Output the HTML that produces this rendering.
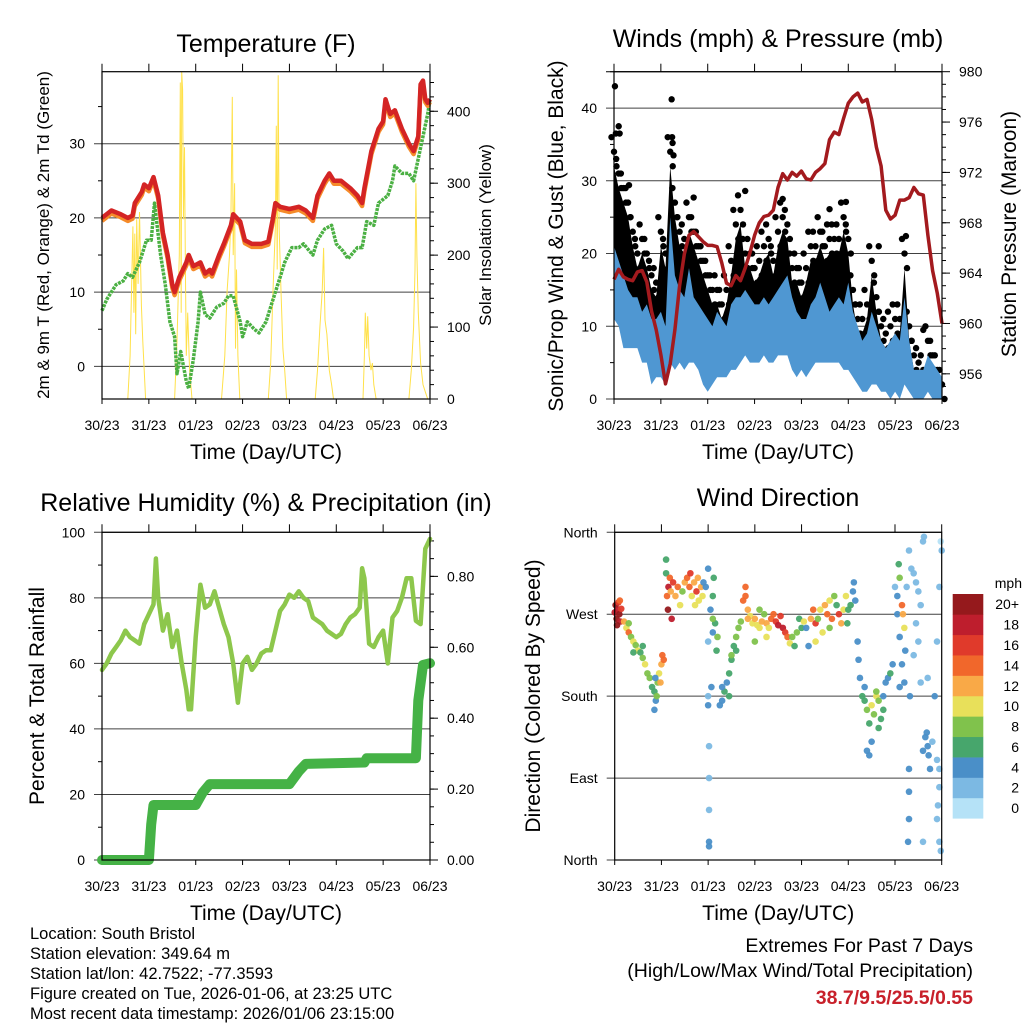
<!DOCTYPE html>
<html><head><meta charset="utf-8"><style>
html,body{margin:0;padding:0;background:#fff;}
svg{display:block;font-family:"Liberation Sans",sans-serif;}
</style></head><body>
<svg id="fig" width="1024" height="1024" viewBox="0 0 1024 1024" xmlns="http://www.w3.org/2000/svg">
<rect x="0" y="0" width="1024" height="1024" fill="#fff"/>
</svg>
<script>
// ---------- shared ----------
const dayLabels = ["30/23","31/23","01/23","02/23","03/23","04/23","05/23","06/23"];
// ---------- Temperature panel ----------
const tempT = [0,0.2,0.4,0.55,0.65,0.7,0.85,0.9,1.0,1.1,1.2,1.3,1.4,1.5,1.55,1.65,1.8,1.85,1.95,2.1,2.2,2.3,2.35,2.5,2.6,2.75,2.8,2.95,3.05,3.2,3.4,3.55,3.65,3.7,3.8,4.0,4.2,4.35,4.5,4.6,4.75,4.85,4.95,5.1,5.3,5.45,5.55,5.6,5.75,5.9,6.0,6.05,6.15,6.25,6.4,6.55,6.65,6.75,6.8,6.85,6.9,6.95,7.0];
const tempV = [20,21,20.5,20,20.3,22,23.5,24.5,24,25.5,23,18,15,11,10,12,14,15,13.5,14,12.5,13,12.5,15,16.5,19,20.5,19.5,17,16.5,16.5,16.8,20,22,21.5,21.2,21.5,21,20,23,25,26,25,25,24,23,22,24,29,32,33,36,34,34.5,32,30,29,31,38,38.5,36,35.5,36];
const dewT = [0,0.1,0.2,0.3,0.45,0.55,0.65,0.8,0.95,1.05,1.12,1.25,1.35,1.45,1.55,1.6,1.68,1.8,1.85,1.95,2.05,2.1,2.2,2.3,2.45,2.6,2.7,2.8,2.95,3.0,3.1,3.25,3.35,3.5,3.65,3.8,3.9,4.05,4.2,4.3,4.5,4.6,4.75,4.9,5.0,5.15,5.25,5.45,5.55,5.65,5.8,5.9,6.1,6.2,6.25,6.4,6.55,6.65,6.75,6.85,6.95,7.0];
const dewV = [7.5,9,10,11,11.5,12.5,12,14,17,17,22,15,11,6,4,-1,2,-2,-3,1,6,10,7,6.5,8,8.5,9.5,9.5,6,4,6,5,4.5,6,9,12,14,16,16,16.5,15,17,18.5,19,16.5,15.5,14.5,16,16,19.5,19,22,23,25,27,26,26,25,28,31,34,36];
const solarT = [0,0.55,0.6,0.63,0.66,0.68,0.7,0.72,0.74,0.77,0.8,0.82,0.84,0.87,0.9,0.93,1.55,1.6,1.65,1.67,1.69,1.7,1.72,1.74,1.76,1.78,1.8,1.83,1.87,1.92,2.55,2.62,2.67,2.72,2.75,2.78,2.8,2.83,2.85,2.87,2.9,2.94,3.55,3.6,3.65,3.7,3.72,3.74,3.76,3.78,3.82,3.86,3.9,3.94,4.55,4.6,4.65,4.7,4.73,4.76,4.8,4.85,4.9,4.94,5.57,5.6,5.62,5.65,5.67,5.7,5.74,5.77,5.8,5.85,6.55,6.6,6.65,6.68,6.7,6.72,6.75,6.8,6.85,6.9,6.95,7.0];
const solarV = [0,0,60,150,240,120,230,90,250,160,260,200,130,80,40,0,0,80,200,440,120,455,430,250,350,180,60,120,40,0,0,60,150,200,250,420,200,300,70,180,60,0,0,50,150,240,380,180,450,240,150,70,40,0,0,40,100,150,210,110,90,40,20,0,0,60,120,70,115,60,40,50,20,0,0,40,100,180,300,200,120,50,20,10,0,0];
const tempTicks = [0,10,20,30];
const solarTicks = [0,100,200,300,400];
// ---------- Wind panel ----------
const windT = [0,0.1,0.2,0.3,0.4,0.5,0.6,0.7,0.8,0.9,1.0,1.1,1.2,1.3,1.4,1.5,1.6,1.7,1.8,1.9,2.0,2.1,2.2,2.3,2.4,2.5,2.6,2.7,2.8,2.9,3.0,3.1,3.2,3.3,3.4,3.5,3.6,3.7,3.8,3.9,4.0,4.1,4.2,4.3,4.4,4.5,4.6,4.7,4.8,4.9,5.0,5.1,5.2,5.3,5.4,5.5,5.6,5.7,5.8,5.9,6.0,6.1,6.2,6.3,6.4,6.5,6.6,6.7,6.8,6.9,7.0];
const windHi = [21,19,17,15,14,14,12,13,11,11,12,10,25,17,15,14,18,14,13,12,11,10,12,11,10,13,14,14,15,14,13,13,14,13,14,15,16,17,14,12,11,11,13,14,16,14,12,13,14,13,16,12,10,8,9,12,10,8,7,8,9,8,14,8,4,4,4,6,5,4,3];
const windLo = [11,10,7,7,7,7,5,5,2,3,3,2,5,4,5,4,5,5,4,2,1,2,3,3,3,4,4,5,6,5,5,5,6,5,5,6,6,6,4,3,4,3,4,5,5,5,5,5,5,4,4,3,2,1,1,2,2,1,1,0,1,0,2,1,0,0,0,1,0,0,0];
const gustHi = [36,33,31,29,25,22,24,22,19,18,25,22,36,29,25,24,27,25,23,21,19,17,17,15,17,21,26,28,22,22,20,21,23,24,21,25,27,26,20,20,18,20,23,23,25,23,24,24,24,27,24,17,13,13,15,21,16,12,11,12,13,13,22,12,8,7,6,10,8,6,4];
const gustLo = [16,15,13,11,10,10,9,9,7,7,8,6,15,11,10,9,11,10,9,7,6,6,8,7,6,9,10,10,11,10,9,9,10,9,10,11,12,12,9,8,7,7,9,10,11,10,9,9,10,9,10,8,6,5,5,8,6,4,4,4,5,4,8,4,2,2,2,4,3,2,1];
const gustOutT = [0.02,0.04,0.1,0.12,1.23,1.24,1.25,1.27,0.32,1.7,2.8,3.6,4.6,4.95,5.65,6.23,6.6];
const gustOutV = [43,36.5,37.5,36.5,41.2,36,35.2,33.5,29.4,27.7,28.6,27.5,26.1,27.1,21,22.4,9.5];
const presT = windT;
const presV = [963.5,964.3,963.7,963.5,963.4,964.1,964.2,963.3,961,959.5,957.5,955.2,956.8,959.5,963,965.5,967,967.3,966.9,966.5,966.2,966.2,966.1,964.8,963.2,963,963.8,963.4,964.4,965.6,967,968,968.5,968.6,969,970.8,971.9,971.4,972,971.7,972.1,971.5,971.4,972,972.3,972.7,974.6,975.2,975,976.3,977.5,978,978.3,977.6,977.8,976.2,974,972.5,969,968.3,968.6,969.8,969.8,970,970.8,970.3,970.2,967,964.2,962.4,960];
const windTicks = [0,10,20,30,40];
const presTicks = [956,960,964,968,972,976,980];
// ---------- RH / precip panel ----------
const rhT = [0,0.1,0.2,0.3,0.4,0.5,0.6,0.7,0.8,0.9,1.0,1.1,1.15,1.2,1.3,1.4,1.5,1.6,1.7,1.8,1.85,1.9,2.0,2.1,2.2,2.3,2.4,2.5,2.6,2.7,2.8,2.9,3.0,3.1,3.2,3.3,3.4,3.5,3.6,3.7,3.8,3.9,4.0,4.1,4.2,4.3,4.4,4.5,4.6,4.7,4.8,4.9,5.0,5.1,5.2,5.3,5.4,5.5,5.55,5.6,5.7,5.8,5.9,6.0,6.1,6.2,6.3,6.4,6.5,6.6,6.7,6.8,6.9,7.0];
const rhV = [58,60,63,65,67,70,68,67,66,72,75,78,92,80,70,75,65,70,60,52,46,46,68,84,77,78,82,77,72,68,60,48,60,62,58,60,63,64,64,70,76,78,81,80,82,80,79,74,73,72,70,69,68,69,72,74,75,77,89,86,66,65,68,70,60,74,76,80,86,86,73,72,95,98];
const rainT = [0,1.0,1.05,1.1,2.0,2.15,2.3,4.0,4.2,4.35,5.6,5.65,6.7,6.75,6.85,7.0];
const rainV = [0,0,0.1,0.155,0.155,0.19,0.214,0.214,0.25,0.271,0.275,0.287,0.287,0.45,0.55,0.555];
const rhTicks = [0,20,40,60,80,100];
const rainTicks = [0,0.2,0.4,0.6,0.8];
// ---------- Wind direction panel ----------
const dirT = [0.0,0.02,0.04,0.06,0.08,0.1,0.12,0.14,0.05,0.11,0.2,0.25,0.3,0.35,0.4,0.45,0.5,0.55,0.6,0.65,0.7,0.75,0.8,0.85,0.88,0.9,0.92,0.95,1.0,1.05,0.3,0.4,0.6,0.85,0.87,1.02,0.98,1.1,1.1,1.12,1.15,1.18,1.2,1.22,1.14,1.25,1.3,1.35,1.4,1.45,1.5,1.55,1.6,1.62,1.65,1.7,1.72,1.75,1.78,1.8,1.85,1.88,1.9,1.95,2.0,2.05,2.1,2.1,2.0,2.0,2.02,2.02,2.02,2.02,2.02,2.07,2.0,2.12,2.15,2.18,2.2,2.1,2.25,2.3,2.35,2.4,2.45,2.5,2.55,2.6,2.65,2.7,2.3,2.45,2.6,2.5,2.75,2.8,2.85,2.9,2.95,3.0,3.05,3.1,3.15,3.2,3.25,3.3,3.35,3.4,3.45,3.5,3.55,3.6,3.65,3.7,3.75,3.8,3.85,3.9,3.95,4.0,4.05,3.0,3.25,2.8,2.85,3.1,4.1,4.15,4.2,4.25,4.3,4.35,4.4,4.45,4.5,4.55,4.6,4.65,4.7,4.75,4.8,4.85,4.9,4.95,4.98,5.0,5.05,5.1,5.12,5.15,4.3,4.6,5.2,5.22,5.25,5.3,5.35,5.4,5.45,5.5,5.55,5.6,5.65,5.7,5.75,5.5,5.6,5.45,5.4,5.35,5.65,5.75,5.8,5.85,5.9,5.95,6.0,6.05,6.1,6.05,6.08,6.1,6.15,6.17,6.2,6.22,6.15,6.1,6.2,6.25,6.3,6.35,6.4,6.45,6.5,6.55,6.3,6.3,6.3,6.28,6.32,6.4,6.45,6.5,6.55,6.6,6.62,6.6,6.65,6.68,6.7,6.72,6.75,6.8,6.85,6.9,6.95,6.98,7.0,6.95,6.9,6.95,6.92,6.9,6.98,6.6,6.7,6.95];
const dirD = [272,280,265,275,283,270,262,276,258,285,262,255,250,245,240,236,230,228,222,215,205,200,190,185,175,180,195,205,215,220,260,228,235,165,200,225,195,330,315,290,300,310,295,265,275,305,290,300,280,295,305,310,300,315,290,305,280,295,310,285,300,290,305,300,320,275,290,250,180,170,125,90,55,15,20,190,240,310,260,230,245,265,170,175,185,195,205,220,235,245,255,262,190,180,230,225,285,290,275,268,260,265,258,255,262,270,260,255,265,270,262,258,268,255,250,245,238,245,235,250,265,255,262,240,245,300,265,275,255,235,265,275,260,265,275,250,280,270,285,265,290,280,270,260,275,290,260,275,280,295,305,285,240,255,240,220,200,180,175,165,150,170,160,180,175,155,165,130,185,115,120,190,145,180,195,200,205,215,300,290,245,270,325,310,280,270,255,230,215,190,195,300,340,320,315,305,295,280,100,75,45,20,180,225,260,240,195,350,355,120,135,140,125,115,100,130,180,110,100,350,340,300,240,80,60,45,10,20,200,20];
const dirS = [18,20,19,17,16,20,18,15,20,14,12,10,14,8,10,7,9,6,8,10,7,8,6,5,4,7,8,10,12,13,8,5,6,4,3,13,11,6,6,13,18,14,12,18,19,16,12,13,10,8,12,14,13,16,10,11,9,15,12,10,11,9,4,4,4,3,5,3,2,3,1,2,2,3,4,3,2,6,5,6,8,7,4,4,5,4,5,6,6,7,8,8,3,5,6,7,14,13,12,10,9,11,10,9,11,8,12,10,14,13,15,17,16,18,16,14,10,7,6,8,6,6,10,8,9,14,12,7,4,4,12,14,16,8,10,9,12,14,10,13,8,6,16,12,10,9,5,6,5,4,3,4,10,8,3,3,4,5,6,7,6,9,7,10,7,6,5,4,8,3,4,4,6,3,3,4,5,3,2,4,3,4,6,7,14,12,10,4,4,3,3,2,2,2,2,2,2,2,3,3,3,4,3,2,2,2,2,2,2,4,4,4,4,4,3,2,4,2,2,0,1,1,1,2,2,2,2,1,2,2];
const dirTicks = [0,90,180,270,360];
const dirLabels = ["North","East","South","West","North"];
const spdLabels = ["0","2","4","6","8","10","12","14","16","18","20+"];
const spdColors = ["#b5e2f7","#7cb9e3","#4a8fc8","#47a66c","#80c24c","#e8e05a","#f9a947","#f1672b","#e03a2b","#be1e2d","#95191c"];

// ---------- helpers ----------
const NS = "http://www.w3.org/2000/svg";
const svg = document.getElementById('fig');
function mk(tag, attrs, parent, text){
  const e = document.createElementNS(NS, tag);
  for (const k in attrs) e.setAttribute(k, attrs[k]);
  if (text !== undefined) e.textContent = text;
  (parent || svg).appendChild(e);
  return e;
}
function lin(d0,d1,r0,r1){ return v => r0 + (v-d0)/(d1-d0)*(r1-r0); }
function ptsStr(ts, vs, sx, sy){ return ts.map((t,i)=>sx(t).toFixed(1)+','+sy(vs[i]).toFixed(1)).join(' '); }

function frame(P, g){
  const sx = lin(0,7,P.x0,P.x1);
  for (let i=0;i<dayLabels.length;i++){
    const x = sx(i);
    const t1 = mk('line',{x1:x,x2:x,y1:P.y0,y2:P.y0-8,stroke:'#000','stroke-width':1},g);
    
    
    const t2 = mk('line',{x1:x,x2:x,y1:P.y1,y2:P.y1+5,stroke:'#000','stroke-width':1},g);
    
    
    const lb = mk('text',{x:x,y:P.y1+31,'font-size':14,'text-anchor':'middle'},g,dayLabels[i]);
    
    
  }
  const xt = mk('text',{x:(P.x0+P.x1)/2,y:P.y1+60,'font-size':21,'text-anchor':'middle'},g,'Time (Day/UTC)');
  
  
  return sx;
}
function leftAxis(P,g,sy,ticks,labels,minor){
  if (minor) minor.forEach(v=>{
    const m = mk('line',{x1:P.x0-4,x2:P.x0,y1:sy(v),y2:sy(v),stroke:'#000'},g);
    
    
  });
  ticks.forEach((v,i)=>{
    const y = sy(v);
    const gl = mk('line',{x1:P.x0-8,x2:P.x1,y1:y,y2:y,stroke:'#000','stroke-width':1,'stroke-opacity':0.75},g);
    
    
    const lb = mk('text',{x:P.x0-17,y:y+5,'font-size':14,'text-anchor':'end'},g,labels?labels[i]:String(v));
    
    
  });
}
function rightAxis(P,g,sy,ticks,labels,minor){
  if (minor) minor.forEach(v=>{
    const m = mk('line',{x1:P.x1,x2:P.x1+4,y1:sy(v),y2:sy(v),stroke:'#000'},g);
    
    
  });
  ticks.forEach((v,i)=>{
    const y = sy(v);
    const t = mk('line',{x1:P.x1,x2:P.x1+8,y1:y,y2:y,stroke:'#000'},g);
    
    
    const lb = mk('text',{x:P.x1+17,y:y+5,'font-size':14,'text-anchor':'start'},g,labels[i]);
    
    
  });
}
function border(P,g){
  const r = mk('rect',{x:P.x0,y:P.y0,width:P.x1-P.x0,height:P.y1-P.y0,fill:'none',stroke:'#000','stroke-width':1.2},g);
  
  
}
function title(x,y,txt,g,size){
  const t = mk('text',{x:x,y:y,'font-size':size||25,'text-anchor':'middle'},g,txt);
  
  
}
function vtitle(x,y,txt,g,size,name){
  const t = mk('text',{x:x,y:y,'font-size':size,'text-anchor':'middle',transform:'rotate(-90 '+x+' '+y+')'},g,txt);
  
  
}
function range(a,b,s){ const r=[]; for(let v=a; v<=b+1e-9; v+=s) r.push(+v.toFixed(4)); return r; }

// ---------- Panel 1: Temperature ----------
(function(){
  const P = {x0:102,x1:430,y0:71.7,y1:399};
  const g = mk('g',{});  
  const sx = frame(P,g);
  const sy = lin(-4.4,39.7,P.y1,P.y0);
  const sr = lin(0,455,P.y1,P.y0);
  leftAxis(P,g,sy,tempTicks,null,[5,15,25,35]);
  rightAxis(P,g,sr,solarTicks,solarTicks.map(String),range(20,440,20));
  const cp = mk('clipPath',{id:'c1'},g); mk('rect',{x:P.x0,y:P.y0,width:P.x1-P.x0,height:P.y1-P.y0},cp);
  const sol = mk('polyline',{points:ptsStr(solarT,solarV,sx,sr),fill:'none',stroke:'#ffe14a','stroke-width':1,'clip-path':'url(#c1)'},g);
  
  
  const dew = mk('polyline',{points:ptsStr(dewT,dewV,sx,sy),fill:'none',stroke:'#4bb043','stroke-width':3.5,'stroke-dasharray':'3 1','stroke-linejoin':'round'},g);
  
  
  const t9 = mk('polyline',{points:ptsStr(tempT,tempV.map(v=>v-0.4),sx,sy),fill:'none',stroke:'#f58b2a','stroke-width':4.5,'stroke-linejoin':'round'},g);
  
  
  const t2 = mk('polyline',{points:ptsStr(tempT,tempV,sx,sy),fill:'none',stroke:'#d42424','stroke-width':4.5,'stroke-linejoin':'round'},g);
  
  
  border(P,g);
  title(266,52,'Temperature (F)',g,25);
  vtitle(49,235,'2m & 9m T (Red, Orange) & 2m Td (Green)',g,17,'left-axis-title');
  vtitle(491,235,'Solar Insolation (Yellow)',g,17,'right-axis-title');
})();

// ---------- Panel 2: Winds & Pressure ----------
(function(){
  const P = {x0:614,x1:942,y0:71.7,y1:399};
  const g = mk('g',{});  
  const sx = frame(P,g);
  const sy = lin(0,45,P.y1,P.y0);
  const sp = lin(954,980,P.y1,P.y0);
  leftAxis(P,g,sy,windTicks,null,[5,15,25,35,45]);
  rightAxis(P,g,sp,presTicks,presTicks.map(String),range(955,979,1));
  const gl = mk('line',{x1:P.x0-8,x2:P.x1,y1:P.y0,y2:P.y0,stroke:'#000'},g);
  
  
  const gustBand = mk('polygon',{points:ptsStr(windT,gustHi.map(v=>v-4),sx,sy)+' '+ptsStr(windT.slice().reverse(),gustLo.slice().reverse(),sx,sy),fill:'#000'},g);
  
  
  windT.forEach((t,i)=>{
    [gustHi[i], gustHi[i]-2, gustHi[i]-4].forEach((v,k)=>{
      const c = mk('circle',{cx:sx(t)+(k-1)*2.5,cy:sy(v),r:3.2,fill:'#000'},g);
      
      
    });
  });
  gustOutT.forEach((t,i)=>{
    const c = mk('circle',{cx:sx(t),cy:sy(gustOutV[i]),r:3.2,fill:'#000'},g);
    
    
  });
  const wb = mk('polygon',{points:ptsStr(windT,windHi,sx,sy)+' '+ptsStr(windT.slice().reverse(),windLo.slice().reverse(),sx,sy),fill:'#4f97d2'},g);
  
  
  const pr = mk('polyline',{points:ptsStr(presT,presV,sx,sp),fill:'none',stroke:'#a31a1e','stroke-width':3.5,'stroke-linejoin':'round'},g);
  
  
  border(P,g);
  title(778,47,'Winds (mph) & Pressure (mb)',g,25);
  vtitle(563,236,'Sonic/Prop Wind & Gust (Blue, Black)',g,21,'left-axis-title');
  vtitle(1016,234,'Station Pressure (Maroon)',g,21,'right-axis-title');
})();

// ---------- Panel 3: RH & Precip ----------
(function(){
  const P = {x0:102,x1:430,y0:532.3,y1:860};
  const g = mk('g',{});  
  const sx = frame(P,g);
  const sy = lin(0,100,P.y1,P.y0);
  const sr = lin(0,0.9243,P.y1,P.y0);
  leftAxis(P,g,sy,rhTicks,null,[10,30,50,70,90]);
  rightAxis(P,g,sr,rainTicks,rainTicks.map(v=>v.toFixed(2)),range(0.05,0.9,0.05));
  const rh = mk('polyline',{points:ptsStr(rhT,rhV,sx,sy),fill:'none',stroke:'#8dc74c','stroke-width':4.5,'stroke-linejoin':'round','stroke-linecap':'round'},g);
  
  
  const rn = mk('polyline',{points:ptsStr(rainT,rainV,sx,sr),fill:'none',stroke:'#45b246','stroke-width':10,'stroke-linejoin':'round','stroke-linecap':'round'},g);
  
  
  border(P,g);
  title(266,511,'Relative Humidity (%) & Precipitation (in)',g,25);
  vtitle(44,696,'Percent & Total Rainfall',g,21,'left-axis-title');
})();

// ---------- Panel 4: Wind Direction ----------
(function(){
  const P = {x0:614.7,x1:941.7,y0:532.3,y1:860};
  const g = mk('g',{});  
  const sx = frame(P,g);
  const sy = lin(0,360,P.y1,P.y0);
  leftAxis(P,g,sy,dirTicks,dirLabels,null);
  dirT.forEach((t,i)=>{
    const ci = Math.min(10, Math.round(dirS[i]/2));
    const c = mk('circle',{cx:sx(t),cy:sy(dirD[i]),r:3.3,fill:spdColors[ci],'fill-opacity':0.95},g);
    
    
  });
  border(P,g);
  title(778,506,'Wind Direction',g,25);
  vtitle(540,696,'Direction (Colored By Speed)',g,21,'left-axis-title');
  const cb = mk('g',{},g);  
  const top=594, bot=818.3, h=(bot-top)/spdColors.length;
  for (let k=0;k<spdColors.length;k++){
    const y = bot - (k+1)*h;
    const r = mk('rect',{x:952.7,y:y,width:30.6,height:h+0.3,fill:spdColors[k]},cb);
    
    
    const lb = mk('text',{x:1019,y:y+h/2+5,'font-size':14,'text-anchor':'end'},cb,spdLabels[k]);
    
    
  }
  const u = mk('text',{x:1022,y:588,'font-size':14,'text-anchor':'end'},cb,'mph');
  
  
})();

// ---------- Footer ----------
(function(){
  const g = mk('g',{});  
  const lines = ["Location: South Bristol","Station elevation: 349.64 m","Station lat/lon: 42.7522; -77.3593","Figure created on Tue, 2026-01-06, at 23:25 UTC","Most recent data timestamp: 2026/01/06 23:15:00"];
  lines.forEach((s,i)=>{
    const t = mk('text',{x:30,y:939+i*20,'font-size':16.5},g,s);
    
    
  });
  const g2 = mk('g',{});  
  const a = mk('text',{x:973,y:952,'font-size':19.5,'text-anchor':'end'},g2,'Extremes For Past 7 Days');
   
  const b = mk('text',{x:973,y:977,'font-size':19.5,'text-anchor':'end'},g2,'(High/Low/Max Wind/Total Precipitation)');
   
  const c = mk('text',{x:973,y:1004,'font-size':19.5,'font-weight':'bold','text-anchor':'end',fill:'#c8202a'},g2,'38.7/9.5/25.5/0.55');
   
})();
</script>
</body></html>
